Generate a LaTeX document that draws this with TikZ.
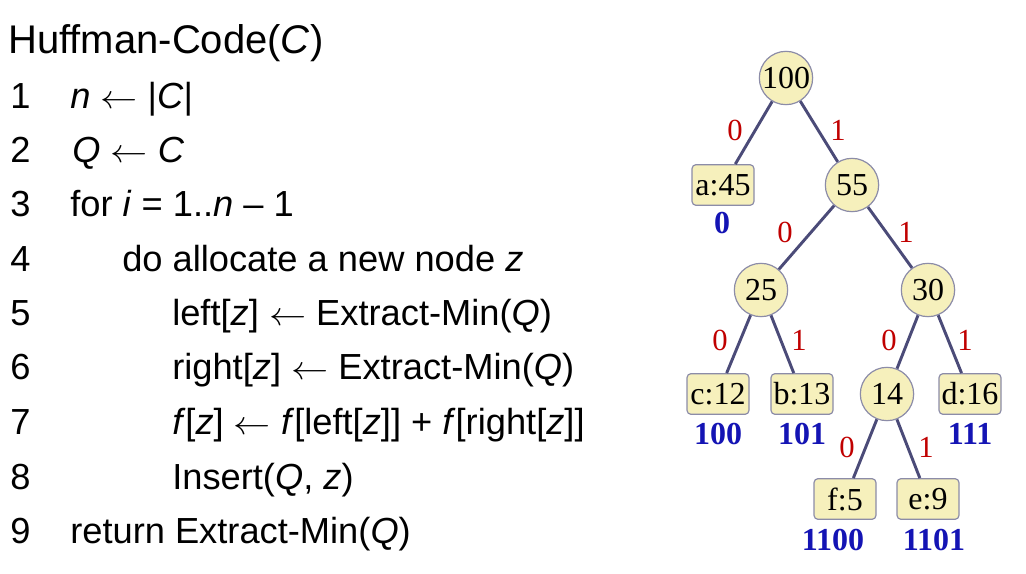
\documentclass[tikz,border=0pt]{standalone}
\usepackage{fontspec}
\setmainfont{Liberation Sans}
\newfontfamily\treefont{Liberation Serif}
\definecolor{nodefill}{HTML}{F6F0BC}
\definecolor{nodedraw}{HTML}{8C8CA8}
\definecolor{edgecol}{HTML}{4B4B78}
\definecolor{bitred}{HTML}{C00000}
\definecolor{codeblue}{HTML}{1414B4}
\newcommand{\getsarrow}{\scalebox{1.12}[1]{$\leftarrow$}}
\tikzset{
  inner/.style={circle,draw=nodedraw,line width=0.9pt,fill=nodefill,minimum size=40pt,inner sep=0pt,font=\treefont\fontsize{24}{24}\selectfont},
  leaf/.style={rectangle,rounded corners=3pt,draw=nodedraw,line width=0.9pt,fill=nodefill,minimum width=46.5pt,minimum height=30.5pt,inner sep=0pt,font=\treefont\fontsize{24}{24}\selectfont},
  edge/.style={draw=edgecol,line width=2.2pt},
  bit/.style={text=bitred,font=\treefont\fontsize{23}{23}\selectfont,inner sep=0pt},
  code/.style={text=codeblue,font=\treefont\bfseries\fontsize{24}{24}\selectfont,inner sep=0pt},
  line/.style={anchor=base west,inner sep=0pt,font=\fontsize{27.2}{27.2}\selectfont},
  titleline/.style={anchor=base west,inner sep=0pt,font=\fontsize{30}{30}\selectfont}
}
\begin{document}
\begin{tikzpicture}[x=0.75pt,y=-0.75pt]
\useasboundingbox (0,0) rectangle (1026,574);
% pseudocode
\node[titleline] (title) at (8,54) {Huffman-Code(\textit{C})};
\node[line] (n1) at (10,109) {1};
\node[line] (n2) at (10,163) {2};
\node[line] (n3) at (10,217) {3};
\node[line] (n4) at (10,272) {4};
\node[line] (n5) at (10,326) {5};
\node[line] (n6) at (10,380) {6};
\node[line] (n7) at (10,435) {7};
\node[line] (n8) at (10,489) {8};
\node[line] (n9) at (10,543) {9};
\node[line] (l1) at (70,109) {\textit{n} \getsarrow{} |\textit{C}|};
\node[line] (l2) at (72,163) {\textit{Q} \getsarrow{} \textit{C}};
\node[line] (l3) at (70,217) {for \textit{i} = 1..\textit{n} – 1};
\node[line] (l4) at (122,272) {do allocate a new node \textit{z}};
\node[line] (l5) at (172,326) {left[\textit{z}] \getsarrow{} Extract-Min(\textit{Q})};
\node[line] (l6) at (172,380) {right[\textit{z}] \getsarrow{} Extract-Min(\textit{Q})};
\node[line] (l7) at (172,435) {\textit{f}[\textit{z}] \getsarrow{} \textit{f}[left[\textit{z}]] + \textit{f}[right[\textit{z}]]};
\node[line] (l8) at (172,489) {Insert(\textit{Q}, \textit{z})};
\node[line] (l9) at (70,543) {return Extract-Min(\textit{Q})};
% tree nodes
\node[inner] (r100) at (786,78) {100};
\node[leaf] (a45) at (723,185) {a:45};
\node[inner] (r55) at (852,185) {55};
\node[inner] (r25) at (761,290) {25};
\node[inner] (r30) at (928,290) {30};
\node[leaf] (c12) at (718,394) {c:12};
\node[leaf] (b13) at (802,394) {b:13};
\node[inner] (r14) at (887,394) {14};
\node[leaf] (d16) at (970,394) {d:16};
\node[leaf] (f5) at (845,499) {f:5};
\node[leaf] (e9) at (928,499) {e:9};
% edges
\draw[edge] (r100) -- (a45);
\draw[edge] (r100) -- (r55);
\draw[edge] (r55) -- (r25);
\draw[edge] (r55) -- (r30);
\draw[edge] (r25) -- (c12);
\draw[edge] (r25) -- (b13);
\draw[edge] (r30) -- (r14);
\draw[edge] (r30) -- (d16);
\draw[edge] (r14) -- (f5);
\draw[edge] (r14) -- (e9);
% bit labels
\node[bit] (b1) at (735,130) {0};
\node[bit] (b2) at (838,130) {1};
\node[bit] (b3) at (785,232) {0};
\node[bit] (b4) at (906,232) {1};
\node[bit] (b5) at (720,340) {0};
\node[bit] (b6) at (799,340) {1};
\node[bit] (b7) at (889,340) {0};
\node[bit] (b8) at (965,340) {1};
\node[bit] (b9) at (847,447) {0};
\node[bit] (b10) at (926,447) {1};
% codes
\node[code] (ca) at (722,223) {0};
\node[code] (cc) at (718,434) {100};
\node[code] (cb) at (802,434) {101};
\node[code] (cd) at (970,434) {111};
\node[code] (cf) at (833,540) {1100};
\node[code] (ce) at (934,540) {1101};
\end{tikzpicture}
\end{document}
